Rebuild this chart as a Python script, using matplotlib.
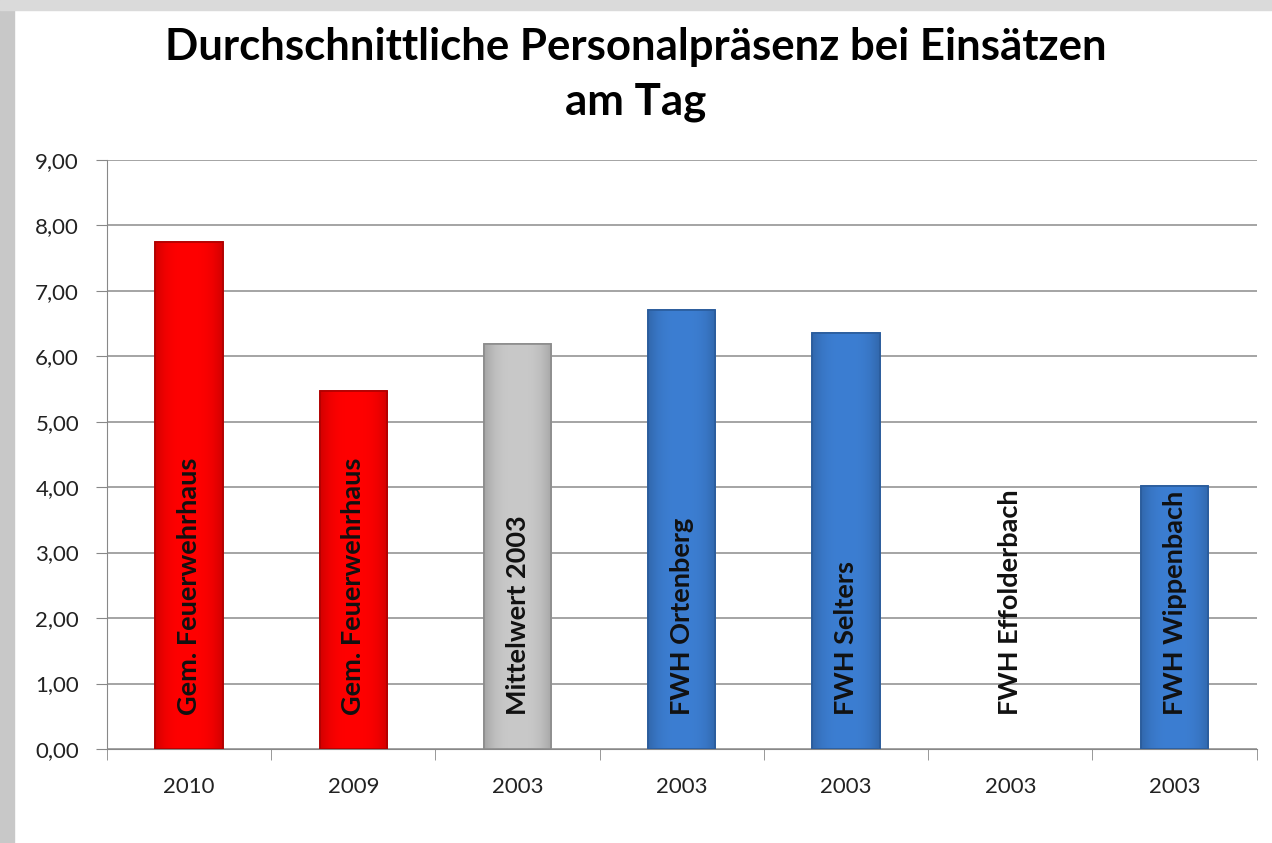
import matplotlib.pyplot as plt
import matplotlib.colors as mcolors
import numpy as np

# Daten
jahre = ['2010', '2009', '2003', '2003', '2003', '2003', '2003']
beschriftung = ['Gem. Feuerwehrhaus', 'Gem. Feuerwehrhaus', 'Mittelwert 2003',
                'FWH Ortenberg', 'FWH Selters', 'FWH Effolderbach', 'FWH Wippenbach']
werte = [7.75, 5.47, 6.19, 6.70, 6.35, 0.0, 4.02]
farben = ['#FF0000', '#FF0000', '#C9C9C9', '#3C7ED2', '#3C7ED2', '#3C7ED2', '#3C7ED2']
kanten = ['#B00000', '#B00000', '#8C8C8C', '#2A5C9C', '#2A5C9C', '#2A5C9C', '#2A5C9C']

plt.rcParams['font.family'] = ['Lato', 'DejaVu Sans']

fig = plt.figure(figsize=(12.72, 8.43), dpi=100)
ax = fig.add_axes([0.084, 0.1115, 0.904, 0.699])

x = np.arange(len(werte))
kanten = [k if w > 0 else 'none' for k, w in zip(kanten, werte)]
balken = ax.bar(x, werte, width=0.41, color=farben, edgecolor=kanten,
                linewidth=1.2, zorder=3)

# leichter Verlauf in den Balken (Rand dunkler)
prof = np.linspace(-1, 1, 60)
faktor = 1 - 0.18 * np.abs(prof) ** 3
for b, f in zip(balken, farben):
    if b.get_height() <= 0:
        continue
    rgb = np.array(mcolors.to_rgb(f))
    img = (faktor[:, None] * rgb[None, :])[None, :, :]
    im = ax.imshow(img, extent=(b.get_x(), b.get_x() + b.get_width(), 0, b.get_height()),
                   aspect='auto', zorder=3.1)
    im.set_clip_path(b)
    ax.bar(b.get_x() + b.get_width() / 2, b.get_height(), width=b.get_width(),
           color='none', edgecolor=b.get_edgecolor(), linewidth=1.2, zorder=3.2)

# Beschriftung in den Balken
for xi, txt in zip(x, beschriftung):
    ax.text(xi, 0.52, txt, rotation=90, ha='center', va='bottom',
            fontsize=19.5, fontweight='bold', color='#111111', zorder=4)

ax.set_xlim(-0.5, len(werte) - 0.5)
ax.set_ylim(0, 9)
ax.set_yticks(np.arange(0, 10, 1))
ax.set_yticklabels([f'{v:.2f}'.replace('.', ',') for v in range(10)], fontsize=16)
ax.set_xticks(x)
ax.set_xticklabels(jahre, fontsize=16)
ax.tick_params(axis='x', length=0, pad=20, labelcolor='#222222')
ax.set_xticks(np.arange(-0.5, len(werte)), minor=True)
ax.tick_params(axis='x', which='minor', length=8, color='#888888', direction='out')
ax.tick_params(axis='y', length=8, color='#888888', direction='out', pad=12,
               labelcolor='#222222')

ax.grid(axis='y', color='#8C8C8C', linewidth=1.1, zorder=0)
for s in ['top', 'right']:
    ax.spines[s].set_visible(False)
ax.spines['left'].set_color('#888888')
ax.spines['bottom'].set_color('#888888')

fig.text(0.5, 0.968, 'Durchschnittliche Personalpräsenz bei Einsätzen\nam Tag',
         ha='center', va='top', fontsize=31.5, fontweight='bold', linespacing=1.45)

# Rahmenschatten links/oben
fig.patches.append(plt.Rectangle((0, 0), 0.011, 1, transform=fig.transFigure,
                                 color='#C8C8C8', zorder=0))
fig.patches.append(plt.Rectangle((0, 0.988), 1, 0.012, transform=fig.transFigure,
                                 color='#DADADA', zorder=0))

fig.savefig('out.png', dpi=100)
